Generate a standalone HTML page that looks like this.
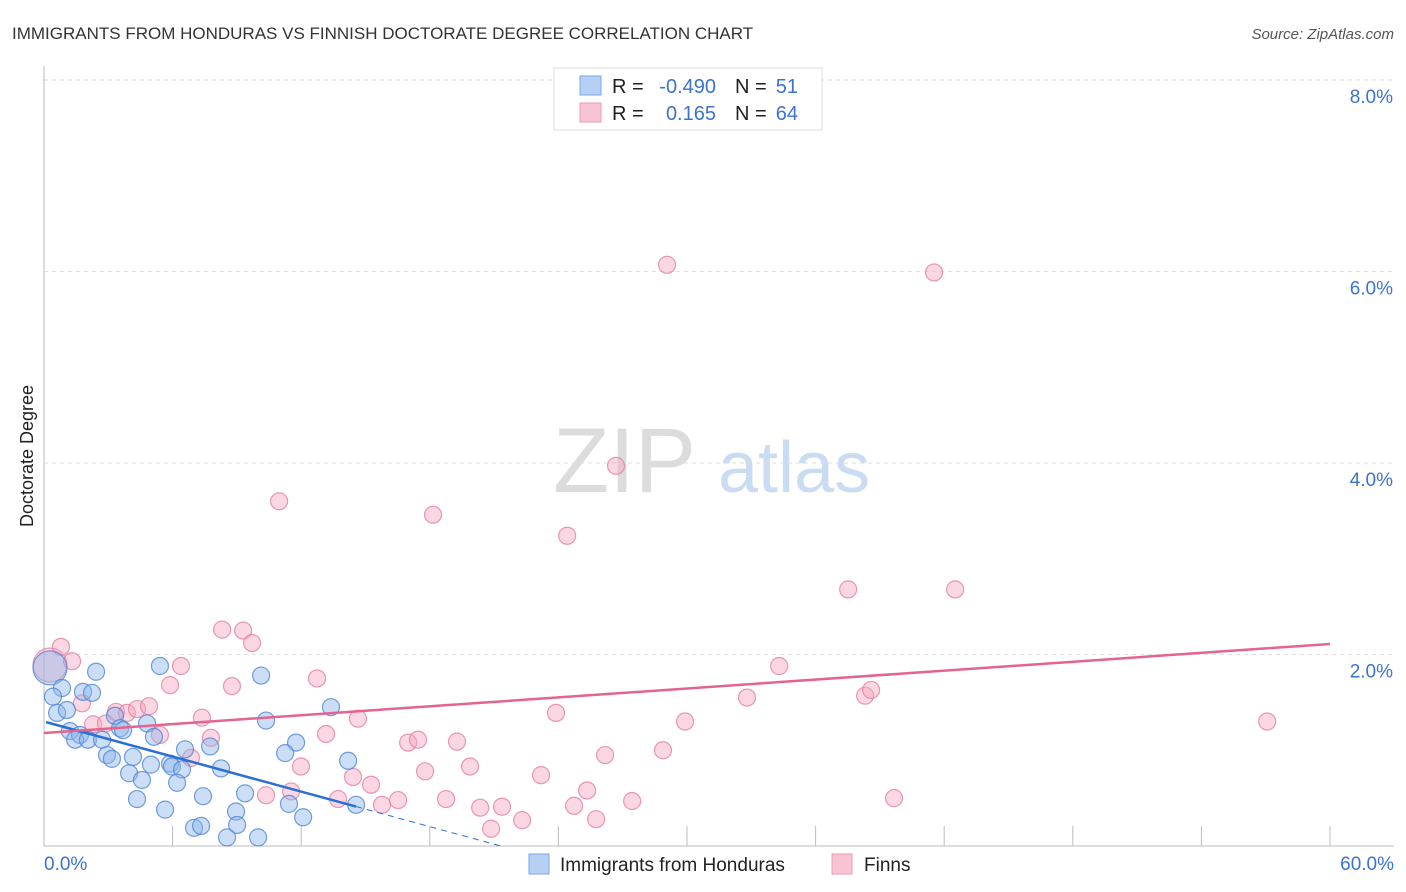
<!DOCTYPE html>
<html><head><meta charset="utf-8"><style>
body{margin:0;background:#fff;font-family:"Liberation Sans",sans-serif;}
#wrap{position:relative;width:1406px;height:892px;overflow:hidden;}
svg text{font-family:"Liberation Sans",sans-serif;}
</style></head><body>
<div id="wrap">
<svg id="chart" width="1406" height="892" xmlns="http://www.w3.org/2000/svg">
<text x="12" y="39" font-size="17" fill="#333">IMMIGRANTS FROM HONDURAS VS FINNISH DOCTORATE DEGREE CORRELATION CHART</text>
<text x="1394" y="39" font-size="15" fill="#555" font-style="italic" text-anchor="end">Source: ZipAtlas.com</text>
<g>
<text x="553" y="492" font-size="92" font-family="Liberation Serif, serif" fill="#dcdcdc">ZIP</text>
<text x="718" y="492" font-size="72" fill="#c9dcf3">atlas</text>
</g>
<text transform="translate(33,456) rotate(-90)" font-size="18" fill="#222" text-anchor="middle">Doctorate Degree</text>
<g id="grid"></g><g id="axes"></g><g id="pts"></g><g id="lines"></g>
<g>
<rect x="554" y="68" width="268" height="62" fill="#fff" stroke="#ddd"/>
<rect x="580" y="76" width="21" height="19" fill="#b6d0f4" stroke="#7aa6e6"/>
<rect x="580" y="103" width="21" height="19" fill="#f8c4d3" stroke="#eb9ab3"/>
<text x="612" y="93" font-size="20" fill="#222">R =</text>
<text x="716" y="93" font-size="20" fill="#3a74d0" text-anchor="end">-0.490</text>
<text x="735" y="93" font-size="20" fill="#222">N =</text>
<text x="798" y="93" font-size="20" fill="#3a74d0" text-anchor="end">51</text>
<text x="612" y="120" font-size="20" fill="#222">R =</text>
<text x="716" y="120" font-size="20" fill="#3a74d0" text-anchor="end">0.165</text>
<text x="735" y="120" font-size="20" fill="#222">N =</text>
<text x="798" y="120" font-size="20" fill="#3a74d0" text-anchor="end">64</text>
</g>
<g>
<rect x="529" y="854" width="20" height="20" fill="#b6d0f4" stroke="#7aa6e6"/>
<text x="560" y="871" font-size="19" fill="#222">Immigrants from Honduras</text>
<rect x="832" y="854" width="20" height="20" fill="#f8c4d3" stroke="#eb9ab3"/>
<text x="864" y="871" font-size="19" fill="#222">Finns</text>
</g>
</svg>
</div>
<script>
const blueX=[0.28,2.43,5.41,10.13,0.84,1.82,2.24,0.42,0.61,1.07,3.31,4.81,3.55,3.69,1.21,1.68,1.45,2.05,2.71,5.13,7.75,6.58,13.39,10.36,11.76,11.25,2.94,3.17,4.15,4.99,5.88,5.97,6.44,8.26,14.19,3.97,4.57,6.21,4.34,7.42,9.38,5.65,11.43,14.56,12.09,8.96,9.01,7.00,7.33,8.54,9.99];
const blueY=[1.86,1.82,1.88,1.78,1.65,1.61,1.60,1.56,1.39,1.42,1.36,1.28,1.23,1.21,1.20,1.16,1.11,1.11,1.11,1.14,1.04,1.01,1.45,1.31,1.08,0.97,0.95,0.91,0.93,0.85,0.86,0.83,0.80,0.81,0.89,0.76,0.69,0.66,0.49,0.52,0.55,0.38,0.44,0.43,0.30,0.36,0.22,0.19,0.21,0.09,0.09];
const pinkX=[0.28,0.79,1.31,1.77,2.29,2.89,3.36,3.87,4.34,4.90,5.41,6.39,5.88,8.31,9.29,9.71,8.77,7.37,7.79,6.86,10.36,11.53,11.99,12.74,13.16,14.65,13.72,14.42,15.26,15.77,16.52,16.99,17.45,19.27,17.78,19.88,18.76,20.35,21.37,20.86,10.97,18.15,24.41,26.69,29.07,41.53,37.52,42.51,34.30,32.80,38.31,38.59,29.91,28.88,26.18,23.89,23.19,25.34,24.73,25.76,27.44,39.66,57.07,22.31];
const pinkY=[1.89,2.08,1.93,1.49,1.27,1.28,1.40,1.39,1.43,1.46,1.16,1.88,1.68,2.26,2.25,2.12,1.67,1.34,1.13,0.92,0.53,0.57,0.83,1.75,1.17,1.33,0.49,0.72,0.64,0.43,0.48,1.08,1.11,1.09,0.78,0.83,0.49,0.40,0.41,0.18,3.60,3.46,3.24,3.97,6.07,5.99,2.68,2.68,1.88,1.55,1.57,1.63,1.30,1.00,0.95,1.39,0.74,0.58,0.42,0.28,0.47,0.50,1.30,0.27];
const yTicks=[2,4,6,8];
const yTickLabels=["2.0%","4.0%","6.0%","8.0%"];
const xTicks=[0,6,12,18,24,30,36,42,48,54,60];
const blueTrend=[1.3,-0.061]; // intercept, slope (per %)
const pinkTrend=[1.18,0.0155];

const NS="http://www.w3.org/2000/svg";
const X=v=>44+v*(1330-44)/60;
const Y=v=>846-v*(846-80)/8;
function mk(tag,attrs,parent){const e=document.createElementNS(NS,tag);for(const k in attrs)e.setAttribute(k,attrs[k]);parent.appendChild(e);return e;}
const grid=document.getElementById('grid'),axes=document.getElementById('axes'),pts=document.getElementById('pts'),lines=document.getElementById('lines');
yTicks.forEach((t,i)=>{
 const l=mk('line',{x1:44,x2:1394,y1:Y(t),y2:Y(t),stroke:'#ddd','stroke-dasharray':'4,4'},grid);
 
 
 const tx=mk('text',{x:1393,y:Y(t)+23,'font-size':19,fill:'#3a74d0','text-anchor':'end'},axes);
 tx.textContent=yTickLabels[i];
 
 
});
const ya=mk('line',{x1:44,x2:44,y1:66,y2:846,stroke:'#bbb'},axes);


const xa=mk('line',{x1:44,x2:1394,y1:846,y2:846,stroke:'#bbb'},axes);


xTicks.forEach(t=>{
 const l=mk('line',{x1:X(t),x2:X(t),y1:826,y2:846,stroke:'#bbb'},axes);
 
 
});
const xl0=mk('text',{x:44,y:870,'font-size':19,fill:'#3a74d0'},axes);xl0.textContent="0.0%";


const xl1=mk('text',{x:1394,y:870,'font-size':19,fill:'#3a74d0','text-anchor':'end'},axes);xl1.textContent="60.0%";



function dots(xs,ys,fill,stroke,name){
 xs.forEach((x,i)=>{
  const c=mk('circle',{cx:X(x),cy:Y(ys[i]),r:i===0?17:8.5,fill:fill,'fill-opacity':0.45,stroke:stroke,'stroke-opacity':0.8,'stroke-width':1.2},pts);
  
  
 });
}
dots(pinkX,pinkY,'#f4a6bf','#e57f9f','point-finns');
dots(blueX,blueY,'#8fb6ec','#4f86d6','point-honduras');

const bxMax=Math.max(...blueX);
const b1=mk('line',{x1:X(0.1),y1:Y(blueTrend[0]+blueTrend[1]*0.1),x2:X(bxMax),y2:Y(blueTrend[0]+blueTrend[1]*bxMax),stroke:'#2a6fd6','stroke-width':2.5},lines);


const xEnd=-blueTrend[0]/blueTrend[1];
const b2=mk('line',{x1:X(bxMax),y1:Y(blueTrend[0]+blueTrend[1]*bxMax),x2:X(xEnd),y2:Y(0),stroke:'#2a6fd6','stroke-width':1,'stroke-dasharray':'6,5'},lines);


const p1=mk('line',{x1:X(0),y1:Y(pinkTrend[0]),x2:X(60),y2:Y(pinkTrend[0]+pinkTrend[1]*60),stroke:'#e3648e','stroke-width':2.5},lines);


</script>
</body></html>
